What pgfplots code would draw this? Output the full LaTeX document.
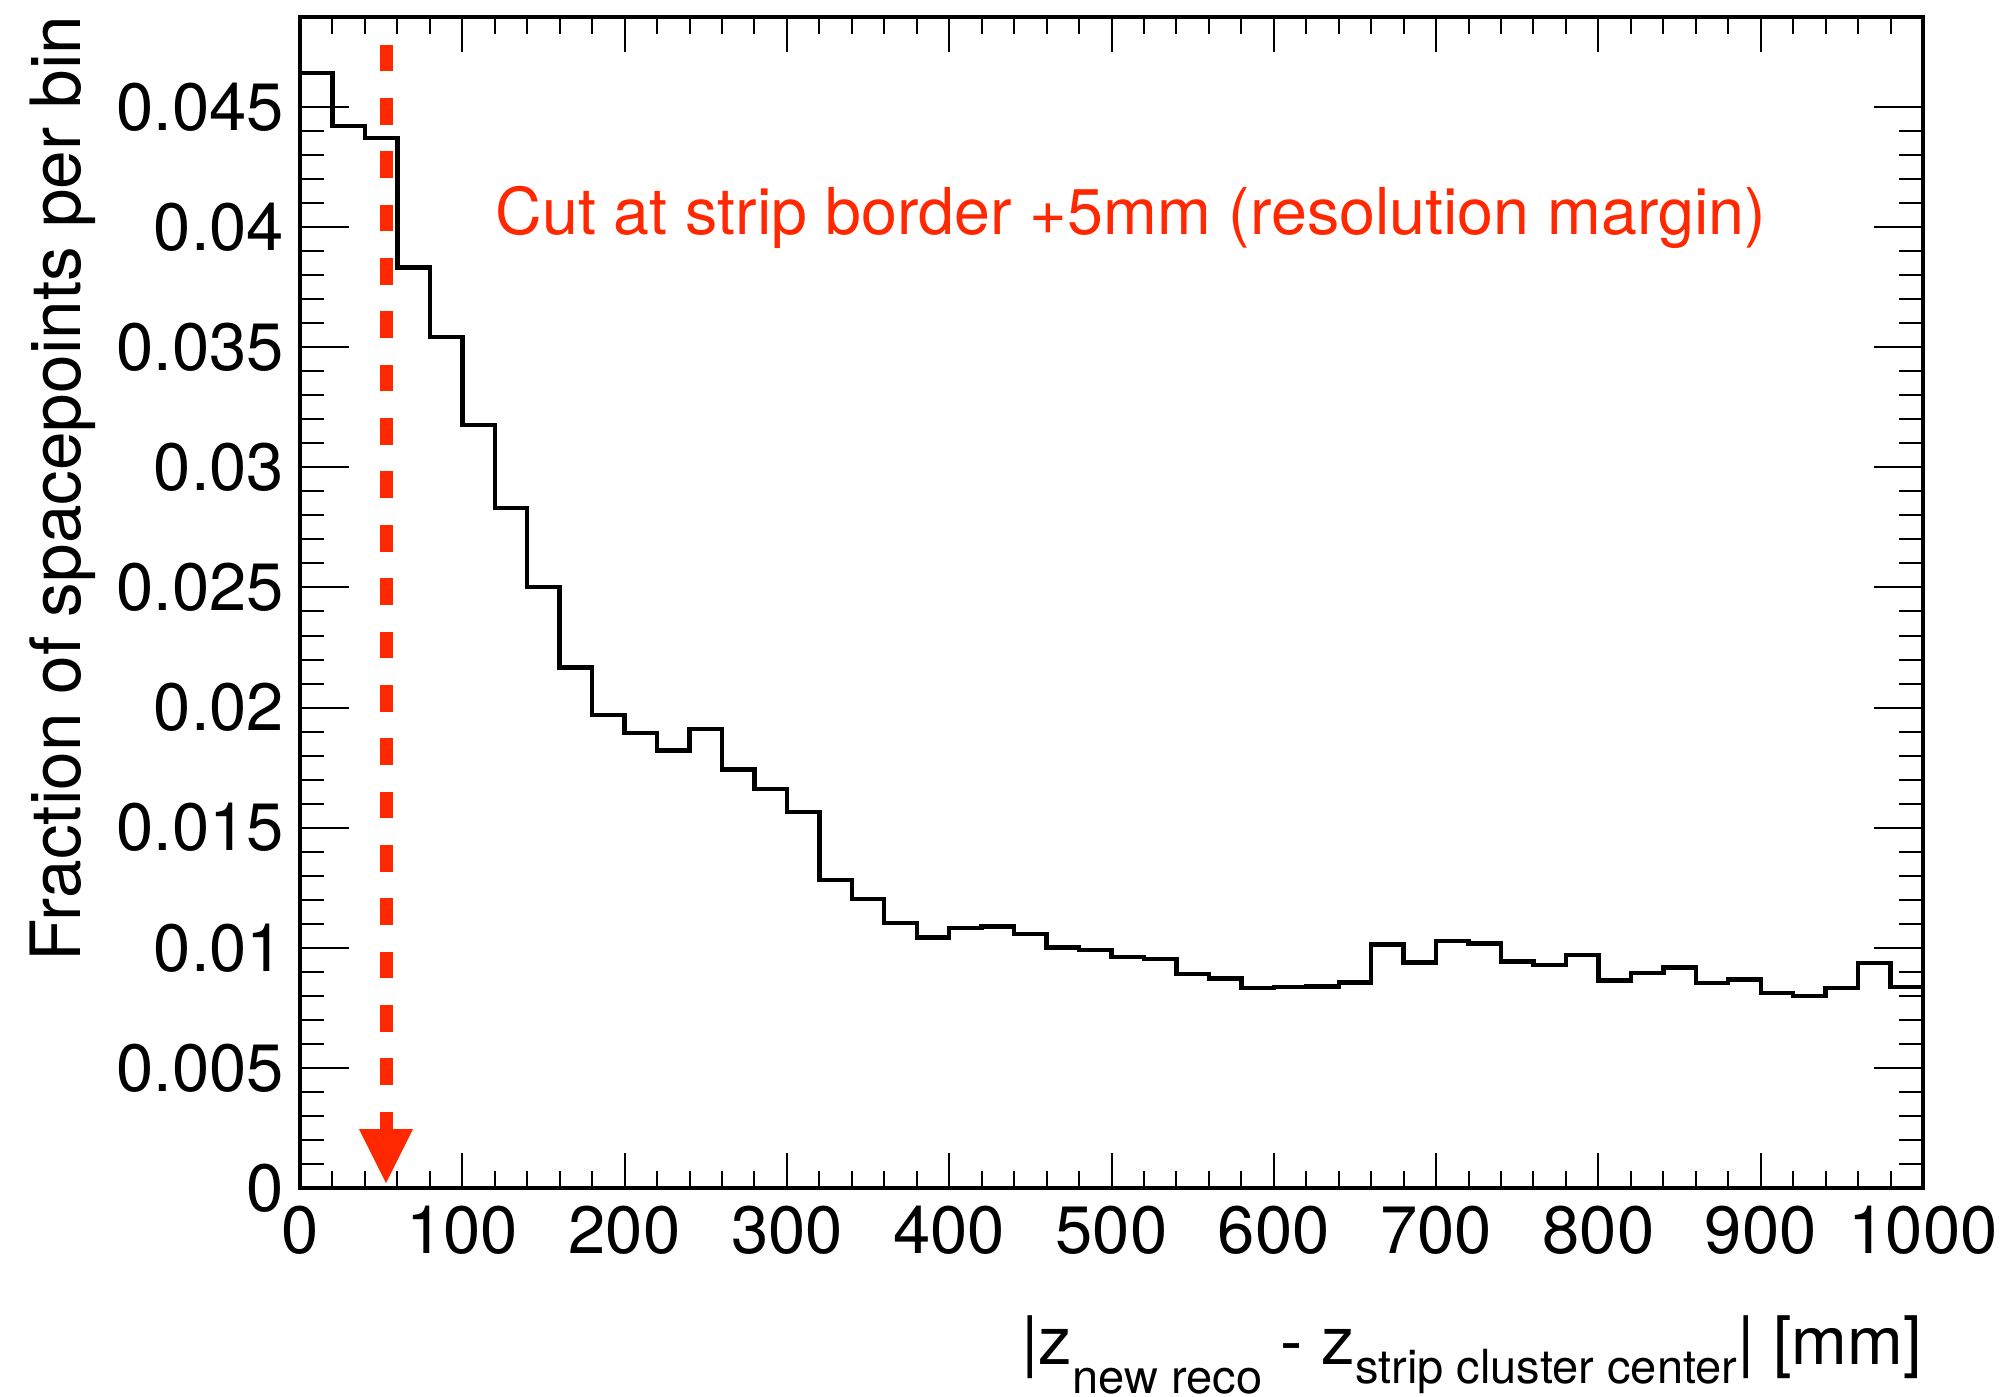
\documentclass[border=0pt]{standalone}
\usepackage{fontspec}
\setmainfont{TeX Gyre Heros}
\usepackage{pgfplots}
\pgfplotsset{compat=1.18}
\definecolor{cutred}{RGB}{255,40,0}

\begin{document}
\begin{tikzpicture}
\useasboundingbox (0,0) rectangle (503.5bp,349.25bp);
\fill[white] (0,0) rectangle (503.5bp,349.25bp);
\begin{axis}[
  at={(75bp,52.25bp)}, anchor=south west,
  scale only axis, width=405.75bp, height=292.75bp,
  xmin=0, xmax=1000, ymin=0, ymax=0.04875,
  axis line style={line width=0.83bp},
  tick align=inside,
  xtick pos=both, ytick pos=both,
  every tick/.style={black, line width=0.5bp},
  xtick style={/pgfplots/major tick length=8.75bp,/pgfplots/minor tick length=4.35bp},
  ytick style={/pgfplots/major tick length=12.25bp,/pgfplots/minor tick length=6.1bp},
  xtick={0,100,200,300,400,500,600,700,800,900,1000},
  xticklabels={0,100,200,300,400,500,600,700,800,900,1000},
  ytick={0,0.005,0.01,0.015,0.02,0.025,0.03,0.035,0.04,0.045},
  yticklabels={0,0.005,0.01,0.015,0.02,0.025,0.03,0.035,0.04,0.045},
  minor x tick num=4, minor y tick num=4,
  xticklabel style={font=\fontsize{16.8}{17}\selectfont, inner sep=0pt, anchor=north, yshift=-4.25bp},
  yticklabel style={font=\fontsize{16.8}{17}\selectfont, inner sep=0pt, anchor=east, xshift=-3.75bp},
]
% 50 bins of 20 mm each
\addplot[const plot, black, line width=1.1bp] coordinates {
  (0,0.04642) (20,0.04421) (40,0.04372) (60,0.03832) (80,0.03543)
  (100,0.03176) (120,0.02830) (140,0.02501) (160,0.02167) (180,0.01969)
  (200,0.01893) (220,0.01821) (240,0.01911) (260,0.01743) (280,0.01661)
  (300,0.01565) (320,0.01283) (340,0.01203) (360,0.01103) (380,0.01043)
  (400,0.01083) (420,0.01089) (440,0.01057) (460,0.01001) (480,0.00992)
  (500,0.00961) (520,0.00953) (540,0.00890) (560,0.00872) (580,0.00833)
  (600,0.00838) (620,0.00839) (640,0.00855) (660,0.01013) (680,0.00938)
  (700,0.01028) (720,0.01018) (740,0.00943) (760,0.00929) (780,0.00970)
  (800,0.00863) (820,0.00896) (840,0.00918) (860,0.00854) (880,0.00868)
  (900,0.00813) (920,0.00799) (940,0.00832) (960,0.00936) (980,0.00836)
  (1000,0.00836)
};
% cut position marker
\draw[cutred, line width=3.25bp, dash pattern=on 6.67bp off 6.67bp]
  (axis cs:53,0.0476) -- (axis cs:53,0.0024);
\fill[cutred] (axis cs:53,0.0002) -- ++(-6.75bp,13.5bp) -- ++(13.5bp,0) -- cycle;
\node[anchor=base west, text=cutred, inner sep=0pt, font=\fontsize{16.2}{17}\selectfont]
  at (axis cs:120,0.0397) {Cut at strip border +5mm (resolution margin)};
\end{axis}
\node[anchor=base east, inner sep=0pt, font=\fontsize{16.8}{17}\selectfont]
  at (480.75bp,8.25bp)
  {|z\raisebox{-7.25bp}{\fontsize{11.8}{12}\selectfont new reco} - z\raisebox{-4.75bp}{\fontsize{11.8}{12}\selectfont strip cluster center}| [mm]};
\node[rotate=90, anchor=base east, inner sep=0pt, font=\fontsize{17.4}{18}\selectfont]
  at (20.2bp,345.5bp) {Fraction of spacepoints per bin};
\end{tikzpicture}
\end{document}
